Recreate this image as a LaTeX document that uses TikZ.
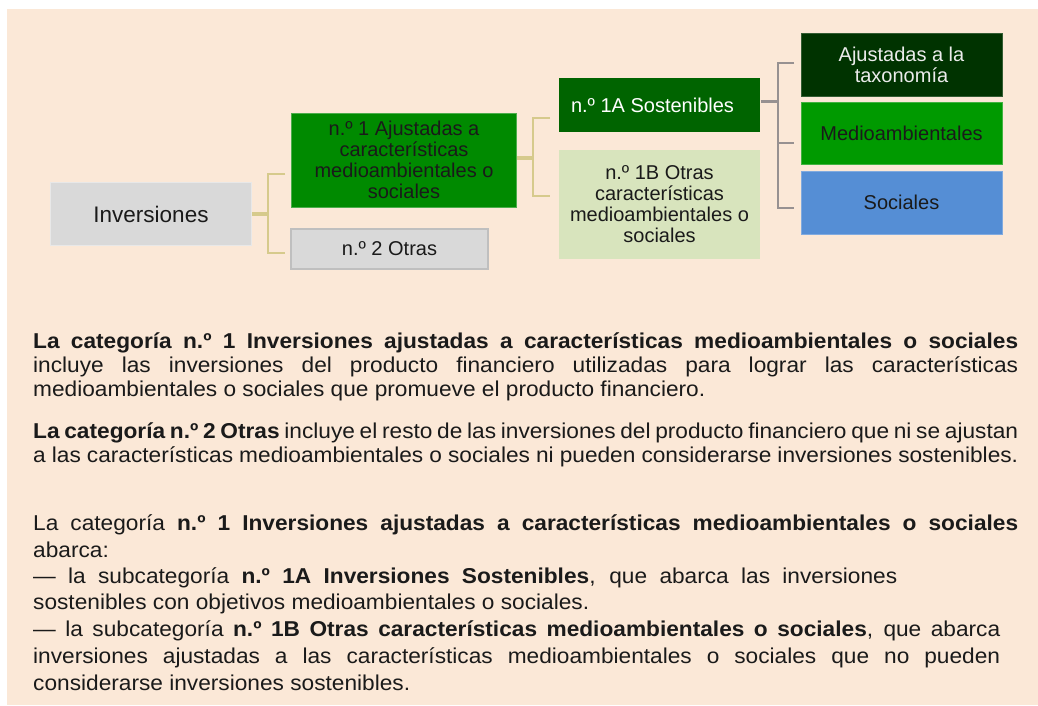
\documentclass[tikz,border=0pt]{standalone}
\usepackage{fontspec}
\setmainfont{Liberation Sans}
\newfontfamily\parafont[FakeStretch=1.055]{Liberation Sans}
\definecolor{peach}{HTML}{FBE8D7}
\definecolor{boxgray}{HTML}{D9D9D9}
\definecolor{gborder}{HTML}{BFBFBF}
\definecolor{green1}{HTML}{008A00}
\definecolor{green1A}{HTML}{006400}
\definecolor{green1B}{HTML}{D8E4BD}
\definecolor{greentax}{HTML}{003300}
\definecolor{greenmed}{HTML}{009A00}
\definecolor{bluesoc}{HTML}{558ED5}
\definecolor{tanline}{HTML}{D6CA8C}
\definecolor{grayline}{HTML}{979191}
\definecolor{txt}{HTML}{1A1A1A}
\newcommand{\jl}[2]{\makebox[#1][s]{#2}}
\begin{document}
\begin{tikzpicture}[x=1pt,y=-1pt,
  box/.style={inner sep=0pt, align=center, text=txt,
    font=\fontsize{20}{21}\selectfont, line width=1pt},
  para/.style={anchor=base west, inner sep=0pt, text=txt,
    font=\parafont\fontsize{21.5}{24}\selectfont},
  tanbr/.style={draw=tanline, line width=1.8pt},
  tanthick/.style={draw=tanline, line width=4.5pt},
  graybr/.style={draw=grayline, line width=1.5pt},
  graythick/.style={draw=grayline, line width=3pt}]
\useasboundingbox (0,0) rectangle (1038,705);
\fill[peach] (7,9) rectangle (1038,705);

% boxes
\node[box, fill=boxgray, draw=boxgray!60!white, minimum width=201pt, minimum height=63pt,
  font=\fontsize{22.5}{24}\selectfont] (inv) at (151,214) {Inversiones};
\node[box, fill=green1, draw=green1!70!white, minimum width=225pt, minimum height=94pt] (n1) at (404,160)
  {n.º 1 Ajustadas a\\características\\medioambientales o\\sociales};
\node[box, fill=boxgray, draw=gborder, line width=2pt, minimum width=197pt, minimum height=40pt] (n2) at (389.5,248.5)
  {n.º 2 Otras};
\node[box, fill=green1A, text=white, minimum width=201pt, minimum height=54pt] (a1) at (659.5,105)
  {n.º 1A Sostenibles\hspace{14pt}};
\node[box, fill=green1B, minimum width=201pt, minimum height=109pt] (b1) at (659.5,204.5)
  {n.º 1B Otras\\características\\medioambientales o\\sociales};
\node[box, fill=greentax, text=white!92!black, draw=greentax!80!white, minimum width=201pt, minimum height=63pt] (tax) at (901.5,64.5)
  {Ajustadas a la\\taxonomía};
\node[box, fill=greenmed, draw=greenmed!75!white, minimum width=201pt, minimum height=62pt] (med) at (901.5,133)
  {Medioambientales};
\node[box, fill=bluesoc, draw=bluesoc!75!white, minimum width=201pt, minimum height=63pt] (soc) at (901.5,202.5)
  {Sociales};

% bracket 1
\coordinate (j1) at (268,214);
\coordinate (j1t) at (268,174);
\coordinate (j1b) at (268,253);
\coordinate (e1t) at (285,174);
\coordinate (e1b) at (285,253);
\draw[tanthick] (inv.east) -- (j1);
\draw[tanbr] (e1t) -- (j1t) -- (j1b) -- (e1b);

% bracket 2
\coordinate (j2) at (533,158);
\coordinate (j2t) at (533,118);
\coordinate (j2b) at (533,196);
\coordinate (e2t) at (550,118);
\coordinate (e2b) at (550,196);
\draw[tanthick, line width=3.5pt] (n1.east |- j2) -- (j2);
\draw[tanbr] (e2t) -- (j2t) -- (j2b) -- (e2b);

% bracket 3
\coordinate (j3) at (778,101);
\coordinate (j3t) at (778,63);
\coordinate (j3b) at (778,208);
\coordinate (e3t) at (794,63);
\coordinate (e3m) at (794,143);
\coordinate (e3b) at (794,208);
\draw[graythick] (a1.east |- j3) -- (j3);
\draw[graybr] (e3t) -- (j3t) -- (j3b) -- (e3b);
\draw[graybr] (j3 |- e3m) -- (e3m);

% paragraph 1
\node[para] (p1a) at (33,348) {\jl{985pt}{\bfseries La categoría n.º 1 Inversiones ajustadas a características medioambientales o sociales}};
\node[para] (p1b) at (33,372) {\jl{985pt}{incluye las inversiones del producto financiero utilizadas para lograr las características}};
\node[para] (p1c) at (33,396) {medioambientales o sociales que promueve el producto financiero.};
% paragraph 2
\node[para] (p2a) at (33,438) {\jl{985pt}{\textbf{La categoría n.º 2 Otras} incluye el resto de las inversiones del producto financiero que ni se ajustan}};
\node[para] (p2b) at (33,462) {\jl{985pt}{a las características medioambientales o sociales ni pueden considerarse inversiones sostenibles.}};
% paragraph 3
\node[para] (p3a) at (33,530) {\jl{985pt}{La categoría \textbf{n.º 1 Inversiones ajustadas a características medioambientales o sociales}}};
\node[para] (p3b) at (33,557) {abarca:};
\node[para] (p3c) at (33,583) {\jl{864pt}{— la subcategoría \textbf{n.º 1A Inversiones Sostenibles}, que abarca las inversiones}};
\node[para] (p3d) at (33,609) {sostenibles con objetivos medioambientales o sociales.};
\node[para] (p3e) at (33,636) {\jl{967pt}{— la subcategoría \textbf{n.º 1B Otras características medioambientales o sociales}, que abarca}};
\node[para] (p3f) at (33,663) {\jl{967pt}{inversiones ajustadas a las características medioambientales o sociales que no pueden}};
\node[para] (p3g) at (33,690) {considerarse inversiones sostenibles.};
\end{tikzpicture}
\end{document}
